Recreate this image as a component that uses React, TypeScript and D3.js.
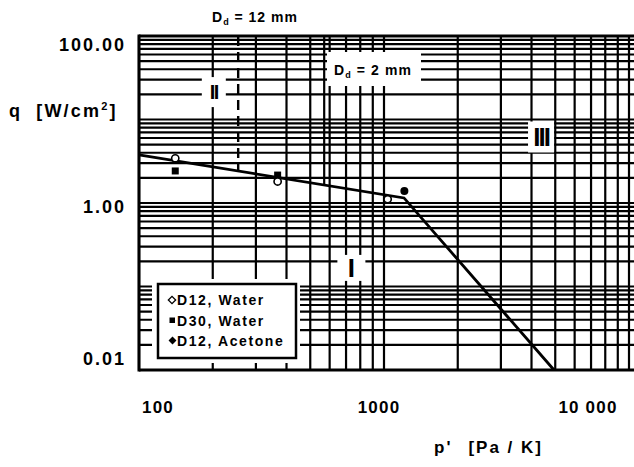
import React from 'react';
import * as d3 from 'd3';

// ---- data ----
const xTickValues = [100, 1000, 10000];
const xTickLabels = ['100', '1000', '10 000'];
const yTickValues = [100, 1, 0.01];
const yTickLabels = ['100.00', '1.00', '0.01'];

const fitP = [100, 1207, 4943];
const fitQ = [3.76, 1.15, 0.01];

const d12WaterP = [140.6, 368, 1035];
const d12WaterQ = [3.43, 1.81, 1.11];
const d30WaterP = [140.6, 368];
const d30WaterQ = [2.42, 2.16];
const d12AcetoneP = [1211];
const d12AcetoneQ = [1.39];

const legendLabels = ['D12, Water', 'D30, Water', 'D12,  Acetone'];

const line12mmP = 254;
const line12mmQ = [2.48, 100];
const line2mmP = 570;
const line2mmQ = [1.64, 100];

const regionLabels = ['II', 'III', 'I'];
const regionP = [202, 4375, 736];
const regionQ = [21.3, 6.17, 0.167];

// ---- layout ----
const W = 634;
const H = 467;
const FONT = "'Liberation Sans', Arial, Helvetica, sans-serif";

export default function App() {
  const x = d3.scaleLog().domain([100, 10000]).range([139, 629]);
  const y = d3.scaleLog().domain([0.01, 100]).range([370, 36]);
  const left = 139;
  const right = W;
  const top = y(100);
  const bottom = y(0.01);

  const xGrid = x.ticks();
  const yGrid = y.ticks();

  const fitLine = d3
    .line<number>()
    .x((d, i) => x(fitP[i]))
    .y((d, i) => y(fitQ[i]));

  const xLabelDx = [19, -5, -41];
  const yLabelDy = [15, 10, -5];

  const regionFont = [20, 26, 26];
  const regionSpacing = [-1.5, -2, 0];
  const regionBox = [
    [24, 30],
    [26, 31],
    [28, 26],
  ];

  return (
    <svg
      width={W}
      height={H}
      style={{ position: 'absolute', left: 0, top: 0, background: '#fff' }}
      fontFamily={FONT}
    >
      <rect x={0} y={0} width={W} height={H} fill="#fff" />

      {/* grid */}
      <g stroke="#000" strokeWidth={2.2}>
        {xGrid.map((v, i) => (
          <line key={'vx' + i} x1={x(v)} x2={x(v)} y1={top} y2={bottom} />
        ))}
        {yGrid.map((v, i) => (
          <line key={'hy' + i} x1={left} x2={right} y1={y(v)} y2={y(v)} />
        ))}
      </g>

      {/* boundary lines */}
      <line
        x1={x(line12mmP)}
        x2={x(line12mmP)}
        y1={y(line12mmQ[1])}
        y2={y(line12mmQ[0])}
        stroke="#000"
        strokeWidth={2.4}
        strokeDasharray="10,6"
      />
      <line
        x1={x(line2mmP)}
        x2={x(line2mmP)}
        y1={y(line2mmQ[1])}
        y2={y(line2mmQ[0])}
        stroke="#000"
        strokeWidth={2.2}
      />

      {/* D_d = 2 mm label box */}
      <rect x={327} y={52} width={94} height={34} fill="#fff" />
      <text x={334} y={75} fontSize={14} fontWeight="bold" letterSpacing={1.1}>
        D<tspan fontSize={9} dy={3}>d</tspan>
        <tspan dy={-3}> = 2 mm</tspan>
      </text>

      {/* region labels */}
      {regionLabels.map((r, i) => {
        const cx = x(regionP[i]);
        const cy = y(regionQ[i]);
        const [bw, bh] = regionBox[i];
        return (
          <g key={'reg' + i}>
            <rect x={cx - bw / 2} y={cy - bh / 2} width={bw} height={bh} fill="#fff" />
            <text
              x={cx}
              y={cy + regionFont[i] * 0.36}
              textAnchor="middle"
              fontSize={regionFont[i]}
              fontWeight="bold"
              letterSpacing={regionSpacing[i]}
            >
              {r}
            </text>
          </g>
        );
      })}

      {/* frame */}
      <g stroke="#000" strokeWidth={3} fill="none">
        <line x1={left} x2={right} y1={top} y2={top} />
        <line x1={left} x2={right} y1={bottom} y2={bottom} />
        <line x1={left} x2={left} y1={top - 1.5} y2={bottom + 1.5} />
      </g>

      {/* fitted line */}
      <path d={fitLine(fitP) || ''} fill="none" stroke="#000" strokeWidth={2.8} />

      {/* markers */}
      {d30WaterP.map((p, i) => (
        <rect
          key={'d30' + i}
          x={x(p) - 3.5}
          y={y(d30WaterQ[i]) - 3.5}
          width={7}
          height={7}
          fill="#000"
        />
      ))}
      {d12WaterP.map((p, i) => (
        <circle
          key={'d12w' + i}
          cx={x(p)}
          cy={y(d12WaterQ[i])}
          r={3.6}
          fill="#fff"
          stroke="#000"
          strokeWidth={1.6}
        />
      ))}
      {d12AcetoneP.map((p, i) => (
        <circle key={'d12a' + i} cx={x(p)} cy={y(d12AcetoneQ[i])} r={4} fill="#000" />
      ))}

      {/* legend */}
      <rect x={152} y={279} width={148} height={84} fill="#fff" />
      <rect x={158} y={284} width={138} height={74} fill="#fff" stroke="#000" strokeWidth={2.5} />
      {legendLabels.map((lab, i) => {
        const yy = 305 + i * 20.5;
        return (
          <g key={'leg' + i}>
            {i === 0 && (
              <rect
                x={-2.6}
                y={-2.6}
                width={5.2}
                height={5.2}
                transform={`translate(172,${yy - 5}) rotate(45)`}
                fill="#fff"
                stroke="#000"
                strokeWidth={1.3}
              />
            )}
            {i === 1 && <rect x={169.5} y={yy - 8} width={5.5} height={5.5} fill="#000" />}
            {i === 2 && (
              <rect
                x={-2.8}
                y={-2.8}
                width={5.6}
                height={5.6}
                transform={`translate(172.5,${yy - 5.5}) rotate(45)`}
                fill="#000"
              />
            )}
            <text x={177} y={yy} fontSize={14} fontWeight="bold" letterSpacing={1.6}>
              {lab}
            </text>
          </g>
        );
      })}

      {/* y tick labels */}
      {yTickValues.map((v, i) => (
        <text
          key={'yl' + i}
          x={126}
          y={y(v) + yLabelDy[i]}
          textAnchor="end"
          fontSize={18}
          fontWeight="bold"
          letterSpacing={2}
        >
          {yTickLabels[i]}
        </text>
      ))}

      {/* x tick labels */}
      {xTickValues.map((v, i) => (
        <text
          key={'xl' + i}
          x={x(v) + xLabelDx[i]}
          y={413}
          textAnchor="middle"
          fontSize={17}
          fontWeight="bold"
          letterSpacing={1.2}
        >
          {xTickLabels[i]}
        </text>
      ))}

      {/* axis titles */}
      <text x={9} y={117} fontSize={18} fontWeight="bold" letterSpacing={2.2}>
        q
        <tspan dx={14}>[W/cm</tspan>
        <tspan fontSize={11} dy={-7}>2</tspan>
        <tspan dy={7}>]</tspan>
      </text>
      <text x={434} y={453} fontSize={17} fontWeight="bold" letterSpacing={2}>
        p'
        <tspan dx={16}>[Pa / K]</tspan>
      </text>

      {/* D_d = 12 mm */}
      <text x={212} y={22} fontSize={14} fontWeight="bold" letterSpacing={1}>
        D<tspan fontSize={9} dy={3}>d</tspan>
        <tspan dy={-3}> = 12 mm</tspan>
      </text>
    </svg>
  );
}
